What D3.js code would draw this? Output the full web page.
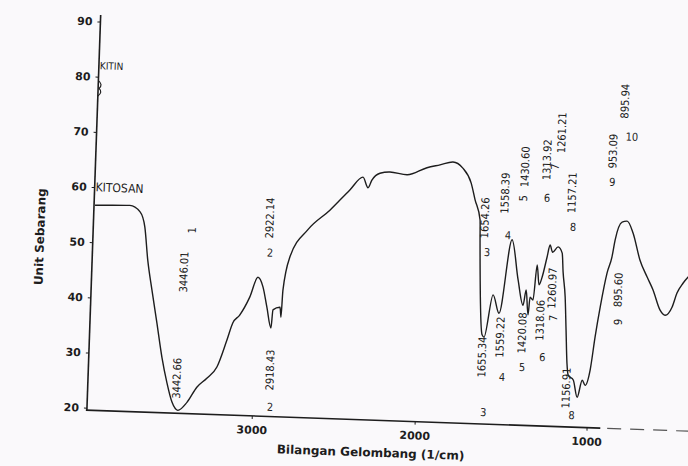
<!DOCTYPE html>
<html>
<head>
<meta charset="utf-8">
<script src="https://cdn.jsdelivr.net/npm/d3@7"></script>
<style>
  body { margin: 0; background: #faf9fb; }
  svg { display: block; }
</style>
</head>
<body>
<script>

/* 目盛り */
const xTicks = [3000, 2000, 1000];
const yTicks = [20, 30, 40, 50, 60, 70, 80, 90];

/* KITOSAN スペクトル ( 波数, 値 ) */
const waveNum = [
  4000, 3788, 3724, 3692, 3667, 3635, 3598, 3560, 3524, 3490,
  3452, 3398, 3341, 3282, 3223, 3168, 3135, 3096, 3037, 2992,
  2959, 2931, 2901, 2893, 2850, 2842, 2836, 2800, 2697, 2565,
  2447, 2369, 2336, 2314, 2266, 2205, 2100, 1980, 1905, 1830,
  1773, 1720, 1694, 1661, 1657, 1626, 1614, 1570, 1532, 1471,
  1428, 1394, 1379, 1363, 1355, 1337, 1320, 1305, 1289, 1264,
  1249, 1233, 1202, 1177, 1168, 1151, 1139, 1127, 1117, 1087,
  1061, 1035, 1017, 991, 969, 945, 912, 887, 872, 835,
  806, 769, 723, 678, 641, 596, 566, 527, 501, 468, 438
];
const unitVal = [
  56.7, 56.9, 55.8, 53.1, 47.1, 41.7, 35.8, 29.6, 25.0, 21.6,
  20.1, 21.6, 24.4, 26.1, 28.2, 33.1, 36.3, 37.7, 41.1, 44.7,
  43.0, 39.4, 35.6, 38.9, 39.4, 37.6, 42.5, 48.6, 53.6, 57.3,
  61.1, 63.5, 61.6, 63.0, 64.3, 64.6, 64.2, 65.6, 66.2, 66.8,
  65.8, 63.1, 60.1, 56.5, 52.8, 35.7, 35.3, 43.0, 39.7, 53.1,
  45.9, 41.3, 44.1, 39.6, 42.8, 42.3, 48.7, 45.1, 46.5, 50.2,
  52.4, 51.1, 52.1, 51.0, 47.6, 43.1, 37.1, 31.1, 28.9, 28.1,
  25.0, 28.1, 27.2, 30.0, 36.0, 41.5, 47.7, 50.6, 53.7, 57.0,
  57.2, 55.1, 50.2, 47.2, 44.9, 41.3, 40.4, 41.9, 44.5, 46.3, 47.5
];

/* ピークの波数ラベル ( 縦書き ) */
const bandText = [
  "3442.66", "2918.43", "1655.34", "1559.22", "1420.08", "1318.06",
  "1260.97", "1156.91", "895.60",
  "3446.01", "2922.14", "1654.26", "1558.39", "1430.60", "1313.92",
  "1261.21", "1157.21", "953.09", "895.94"
];
const bandWn = [
  3465, 2898, 1622, 1521, 1394, 1292, 1228, 1127, 844,
  3445, 2931, 1633, 1521, 1410, 1284, 1203, 1132, 902, 842
];
const bandVal = [
  25.9, 28.0, 31.7, 35.4, 36.3, 38.7, 44.6, 26.6, 44.7,
  45.2, 55.5, 56.9, 61.5, 66.4, 67.8, 72.8, 62.0, 69.8, 78.9
];

/* ピーク番号 */
const peakNo = ["1", "2", "3", "4", "5", "6", "7", "8", "9", "10",
  "2", "3", "4", "5", "6", "7", "8", "9"];
const peakNoWn = [3404, 2923, 1614, 1495, 1415, 1276, 1236, 1119, 901, 795,
  2890, 1604, 1501, 1387, 1272, 1216, 1090, 838];
const peakNoVal = [52.8, 49.2, 50.7, 53.9, 60.7, 60.9, 66.6, 55.8, 64.2, 72.5,
  21.3, 21.7, 28.2, 30.1, 32.0, 39.2, 21.7, 38.9];
const peakNoTurned = [true, false, false, false, true, false, true, false, false, false,
  false, false, false, false, false, true, false, true];

const ink = "#1d1d1d";
const W = 688, H = 466;

const svg = d3.select("body").append("svg")
  .attr("width", W).attr("height", H);

// スキャンの傾き ( 約 2 度 ) を再現する
const g = svg.append("g").attr("transform", "rotate(2,390,240)");

// スケール ( 波数は区分的に線形 )
const x = d3.scaleLinear()
  .domain([4000, 3000, 2000, 1000, 400])
  .range([94, 258, 421, 593, 696]);
const y = d3.scaleLinear().domain([20, 90]).range([418.2, 31.8]);

const axisX = x(4000) - 1;
const baseY = y(19.56);

// 軸線
g.append("line")
  .attr("x1", axisX).attr("x2", axisX)
  .attr("y1", y(91.2)).attr("y2", baseY)
  .attr("stroke", ink).attr("stroke-width", 1.6);
g.append("line")
  .attr("x1", axisX - 1).attr("x2", x(920))
  .attr("y1", baseY).attr("y2", baseY)
  .attr("stroke", ink).attr("stroke-width", 1.6);
g.append("line")
  .attr("x1", x(880)).attr("x2", x(400))
  .attr("y1", baseY).attr("y2", baseY)
  .attr("stroke", "#555").attr("stroke-width", 1.2)
  .attr("stroke-dasharray", "14,9");

// KITIN の軸の切れ目
const brk = d3.path();
brk.moveTo(axisX, y(79.3));
brk.quadraticCurveTo(axisX + 5, y(78.6), axisX + 1, y(77.9));
brk.quadraticCurveTo(axisX + 5, y(77.2), axisX, y(76.5));
g.append("path").attr("d", brk.toString())
  .attr("fill", "none").attr("stroke", ink).attr("stroke-width", 1.2);

// y 軸の目盛り
const yAxis = g.append("g")
  .attr("transform", `translate(${axisX},0)`)
  .call(d3.axisLeft(y).tickValues(yTicks).tickSize(3).tickPadding(5)
    .tickFormat(d3.format("d")));
yAxis.select(".domain").remove();

// x 軸の目盛り
const xAxis = g.append("g")
  .attr("transform", `translate(0,${baseY})`)
  .call(d3.axisBottom(x).tickValues(xTicks).tickSize(3).tickPadding(7)
    .tickFormat(d3.format("d")));
xAxis.select(".domain").remove();

[xAxis, yAxis].forEach((a) => {
  a.selectAll("line").attr("stroke", ink);
  a.selectAll("text")
    .attr("fill", ink)
    .style("font", "bold 11px 'DejaVu Sans'");
});

// 軸タイトル
g.append("text")
  .attr("x", 378).attr("y", 453)
  .attr("text-anchor", "middle").attr("dy", "0.35em")
  .attr("fill", ink)
  .style("font", "bold 12px 'DejaVu Sans'")
  .text("Bilangan Gelombang (1/cm)");
g.append("text")
  .attr("transform", "translate(40,249) rotate(-90)")
  .attr("text-anchor", "middle").attr("dy", "0.35em")
  .attr("fill", ink)
  .style("font", "bold 12px 'DejaVu Sans'")
  .text("Unit Sebarang");

// 系列名
g.append("text")
  .attr("x", axisX + 1).attr("y", y(82)).attr("dy", "0.35em")
  .attr("fill", ink)
  .style("font", "10px 'DejaVu Sans Condensed'")
  .text("KITIN");
g.append("text")
  .attr("x", axisX + 1).attr("y", y(60)).attr("dy", "0.35em")
  .attr("fill", ink)
  .style("font", "12px 'DejaVu Sans Condensed'")
  .text("KITOSAN");

// スペクトル
const line = d3.line()
  .x((d, i) => x(waveNum[i]))
  .y((d, i) => y(unitVal[i]))
  .curve(d3.curveMonotoneX);
g.append("path")
  .attr("d", line(waveNum))
  .attr("fill", "none")
  .attr("stroke", ink)
  .attr("stroke-width", 1.4)
  .attr("stroke-linejoin", "round");

// 波数ラベル
g.selectAll("text.band")
  .data(d3.range(bandText.length))
  .join("text")
  .attr("class", "band")
  .attr("transform", (i) => `translate(${x(bandWn[i])},${y(bandVal[i])}) rotate(-90)`)
  .attr("text-anchor", "middle").attr("dy", "0.35em")
  .attr("fill", ink)
  .style("font", "11px 'DejaVu Sans Condensed'")
  .text((i) => bandText[i]);

// ピーク番号
g.selectAll("text.peak")
  .data(d3.range(peakNo.length))
  .join("text")
  .attr("class", "peak")
  .attr("transform", (i) => `translate(${x(peakNoWn[i])},${y(peakNoVal[i])})` +
    (peakNoTurned[i] ? " rotate(-90)" : ""))
  .attr("text-anchor", "middle").attr("dy", "0.35em")
  .attr("fill", ink)
  .style("font", "11px 'DejaVu Sans Condensed'")
  .text((i) => peakNo[i]);

</script>
</body>
</html>
